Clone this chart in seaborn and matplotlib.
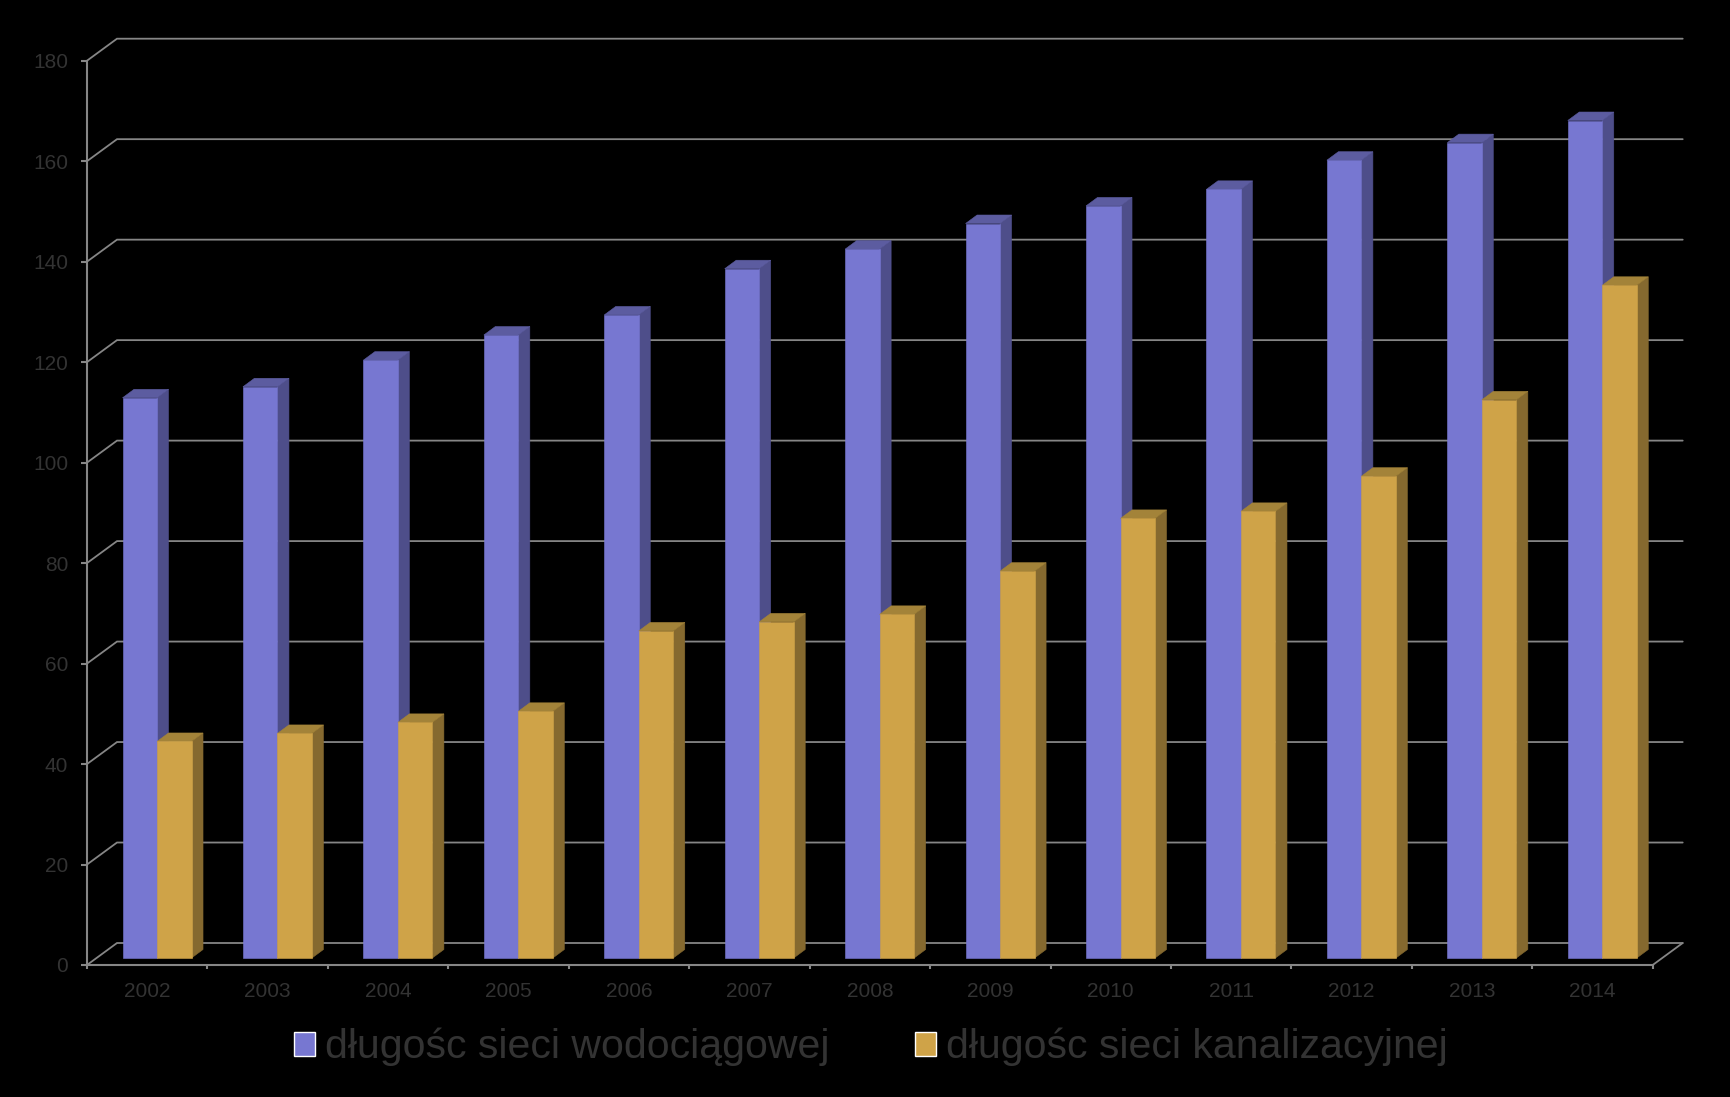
import matplotlib
matplotlib.use("Agg")
import matplotlib.pyplot as plt
from matplotlib.patches import Polygon
import pandas as pd
import seaborn as sns

# Data
years = ["2002", "2003", "2004", "2005", "2006", "2007", "2008", "2009", "2010", "2011", "2012", "2013", "2014"]
woda = [111.5, 113.7, 119.0, 124.0, 128.0, 137.2, 141.1, 146.2, 149.7, 153.0, 158.8, 162.3, 166.7]
kanal = [43.1, 44.7, 46.9, 49.1, 65.1, 66.9, 68.4, 77.0, 87.5, 88.9, 95.9, 111.1, 133.9]
names = ["długośc sieci wodociągowej", "długośc sieci kanalizacyjnej"]
yticks = list(range(0, 181, 20))

front = ["#7777d1", "#cfa348"]
side = ["#4e4e8a", "#85692f"]
top = ["#5c5ca0", "#a38339"]
grid = "#868686"
text = "#333333"

sns.set_theme(style="white")
plt.rcParams["font.family"] = ["Liberation Sans", "DejaVu Sans"]

df = pd.DataFrame({
    "rok": years * 2,
    "siec": [names[0]] * len(years) + [names[1]] * len(years),
    "km": woda + kanal,
})

W, H = 1730, 1097
fig = plt.figure(figsize=(W / 100, H / 100), dpi=100, facecolor="black")
ax = fig.add_axes([87 / W, 1 - 965 / H, (1652.7 - 87) / W, (965 - 60.7) / H], facecolor="black")

sns.barplot(data=df, x="rok", y="km", hue="siec", palette=front, width=0.573, gap=0,
            saturation=1, ax=ax, legend="brief")
handles, labels = ax.get_legend_handles_labels()

ax.set_xlim(-0.5, 12.5)
ax.set_ylim(0, 180)
ax.set_xlabel("")
ax.set_ylabel("")

# pseudo 3D depth, in data units
px_x = 13 / (1652.7 - 87)
px_y = 180 / (965 - 60.7)
wall_dx, wall_dy = 30 * px_x, 22 * px_y
base_dx, base_dy = 9.8 * px_x, 7 * px_y
bar_dx, bar_dy = 11.5 * px_x, 8.5 * px_y

# back wall grid
x0, x1 = ax.get_xlim()
for v in yticks:
    ax.plot([x0, x0 + wall_dx, x1 + wall_dx], [v, v + wall_dy, v + wall_dy],
            color=grid, lw=1.3, zorder=1, clip_on=False, solid_joinstyle="miter")
ax.plot([x1, x1 + wall_dx], [0, wall_dy], color=grid, lw=1.3, zorder=1, clip_on=False)

# front faces come from seaborn, side and top are built on them
for i, cont in enumerate(ax.containers):
    z = 2 + 2 * i
    for bar in cont:
        bar.set_x(bar.get_x() + base_dx)
        bar.set_y(base_dy)
        bar.set_zorder(z + 1)
        bar.set_edgecolor(front[i])
        bar.set_linewidth(0.4)
        bl = bar.get_x()
        br = bl + bar.get_width()
        yb = bar.get_y()
        yt = yb + bar.get_height()
        ax.add_patch(Polygon([(br, yb), (br + bar_dx, yb + bar_dy), (br + bar_dx, yt + bar_dy), (br, yt)],
                             closed=True, fc=side[i], ec=side[i], lw=0.4, zorder=z, clip_on=False))
        ax.add_patch(Polygon([(bl, yt), (bl + bar_dx, yt + bar_dy), (br + bar_dx, yt + bar_dy), (br, yt)],
                             closed=True, fc=top[i], ec=top[i], lw=0.4, zorder=z, clip_on=False))

for s in ["top", "right"]:
    ax.spines[s].set_visible(False)
for s in ["left", "bottom"]:
    ax.spines[s].set_color(grid)
    ax.spines[s].set_linewidth(1.5)
    ax.spines[s].set_zorder(1)

ax.set_yticks(yticks)
ax.set_xticks([i + 0.5 for i in range(-1, 13)], minor=True)
ax.tick_params(axis="y", length=4.5, width=1.5, color=grid, labelcolor=text, labelsize=15, pad=9, left=True)
ax.tick_params(axis="x", which="major", length=0, labelcolor=text, labelsize=15, pad=12)
ax.tick_params(axis="x", which="minor", length=3, width=1.5, color=grid, bottom=True)

ax.legend(handles, labels, ncol=2, loc="center", bbox_to_anchor=(871 / W, 1 - 1047 / H),
          bbox_transform=fig.transFigure, frameon=False, fontsize=29.5, labelcolor=text,
          handlelength=0.51, handleheight=0.51, handletextpad=0.24, columnspacing=2.1,
          borderpad=0, borderaxespad=0)

fig.savefig("out.png", dpi=100, facecolor="black")
